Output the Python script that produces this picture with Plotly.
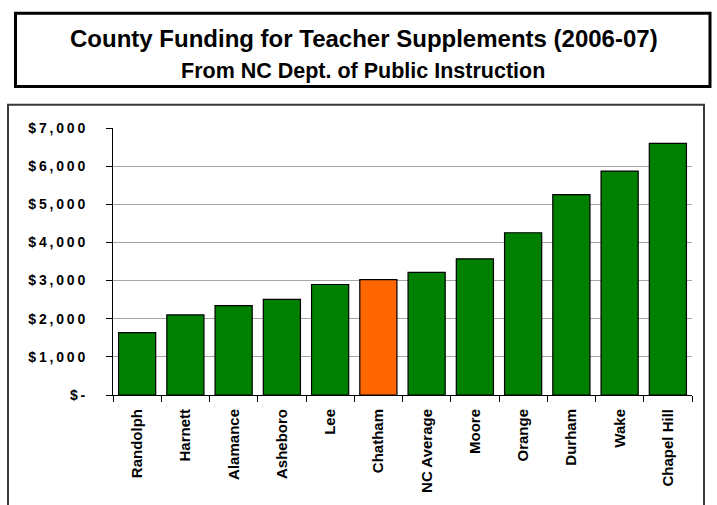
import plotly.graph_objects as go

categories = ["Randolph", "Harnett", "Alamance", "Asheboro", "Lee", "Chatham",
              "NC Average", "Moore", "Orange", "Durham", "Wake", "Chapel Hill"]
values = [1635, 2100, 2345, 2505, 2897, 3026, 3215, 3570, 4254, 5252, 5871, 6595]
highlight = "Chatham"
tick_vals = [0, 1000, 2000, 3000, 4000, 5000, 6000, 7000]
tick_text = ["$-", "$1,000", "$2,000", "$3,000", "$4,000", "$5,000", "$6,000", "$7,000"]
title_main = "County Funding for Teacher Supplements (2006-07)"
title_sub = "From NC Dept. of Public Instruction"

W, H = 717, 505
L, R, T, B = 113, 692, 128, 399  # plot area in pixels

def px_x(p):
    return (p - L) / (R - L)

def px_y(p):
    return (B - p) / (B - T)

def spaced(s):
    return "\u2009".join(list(s))

colors = ["#FF6600" if c == highlight else "#008000" for c in categories]

fig = go.Figure(go.Bar(
    x=categories, y=values,
    marker=dict(color=colors, line=dict(color="black", width=1.2)),
    width=0.77,
))

fig.update_layout(
    width=W, height=H,
    margin=dict(l=L, r=W - R, t=T, b=H - B, pad=0),
    paper_bgcolor="white", plot_bgcolor="white",
    showlegend=False,
    bargap=0.23,
    font=dict(family="Liberation Sans, Arial, sans-serif", color="black"),
)

fig.update_xaxes(
    type="category",
    tickangle=-90,
    tickfont=dict(size=15, weight="bold", family="Liberation Sans, Arial, sans-serif"),
    showline=True, linecolor="black", linewidth=1,
    ticks="outside", ticklen=6, tickcolor="black", tickson="boundaries",
    ticklabelstandoff=7,
    showgrid=False,
)
fig.update_yaxes(
    range=[0, 7000],
    tickvals=tick_vals,
    ticktext=[spaced(t) for t in tick_text],
    tickfont=dict(size=14, weight="bold", family="Liberation Sans, Arial, sans-serif"),
    showline=True, linecolor="black", linewidth=1,
    ticks="outside", ticklen=6, tickcolor="black",
    ticklabelstandoff=18,
    showgrid=True, gridcolor="#a6a6a6", gridwidth=1,
    zeroline=False,
)

# Title box
fig.add_shape(type="rect", xref="paper", yref="paper",
              x0=px_x(15.5), x1=px_x(710), y0=px_y(11.5), y1=px_y(86),
              line=dict(color="black", width=3), fillcolor="rgba(0,0,0,0)", layer="above")
# Chart frame
fig.add_shape(type="rect", xref="paper", yref="paper",
              x0=px_x(8), x1=px_x(704), y0=px_y(104.5), y1=px_y(515),
              line=dict(color="#3a3a3a", width=2), fillcolor="rgba(0,0,0,0)", layer="above")

fig.add_annotation(text=title_main, xref="paper", yref="paper",
                   x=px_x(364), y=px_y(37), xanchor="center", yanchor="middle",
                   showarrow=False,
                   font=dict(size=24, weight="bold", family="Liberation Sans, Arial, sans-serif"))
fig.add_annotation(text=title_sub, xref="paper", yref="paper",
                   x=px_x(363), y=px_y(70), xanchor="center", yanchor="middle",
                   showarrow=False,
                   font=dict(size=21.5, weight="bold", family="Liberation Sans, Arial, sans-serif"))

fig.write_html("out.html", config={"displayModeBar": False},
               post_script="document.body.style.margin='0px';")
